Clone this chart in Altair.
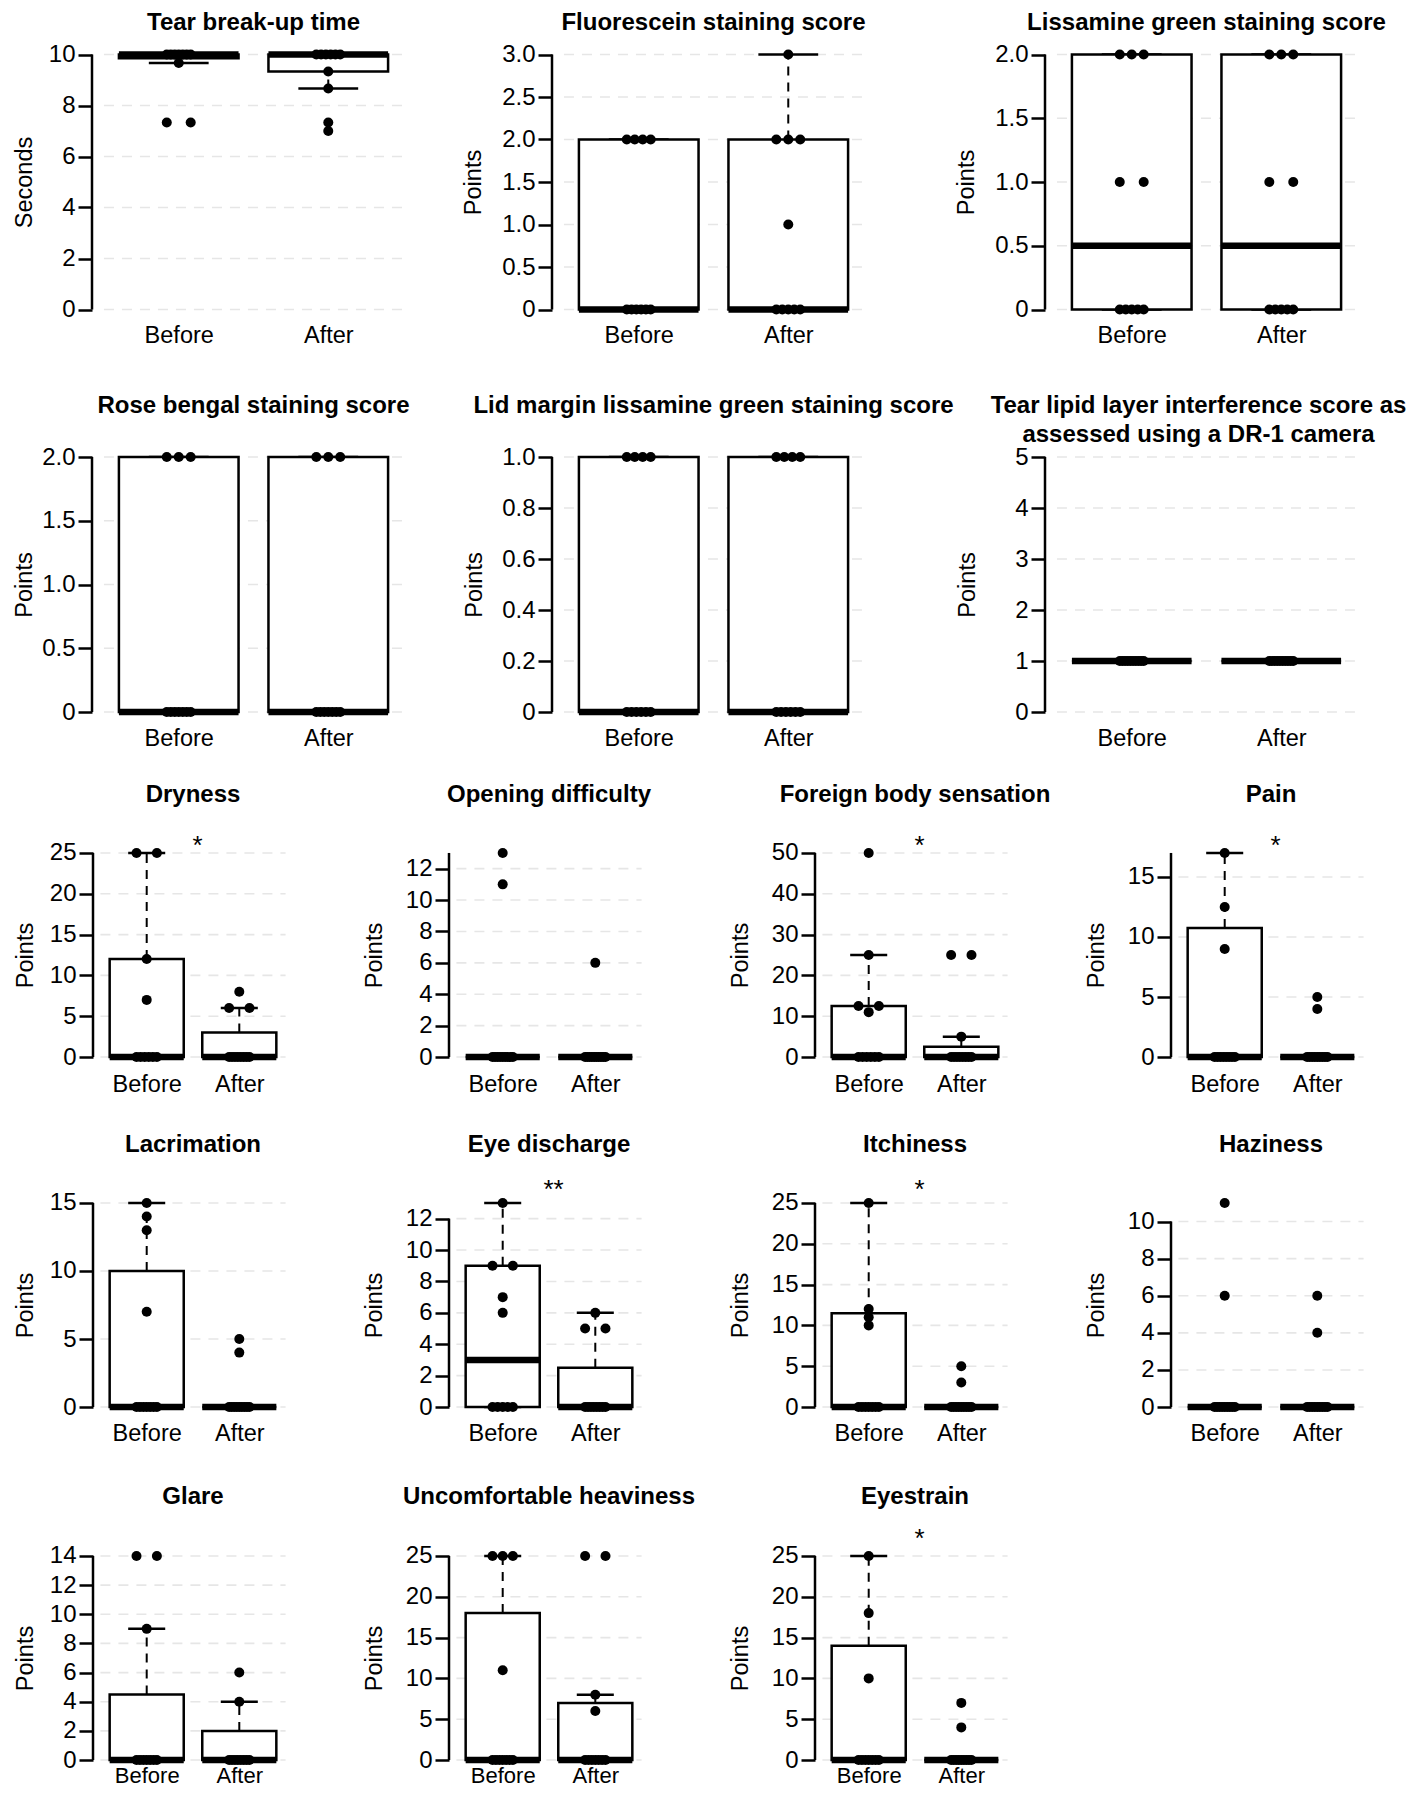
import altair as alt
import pandas as pd

# ------------------------------------------------------------------ data
TITLES = [
    "Tear break-up time", "Fluorescein staining score", "Lissamine green staining score",
    "Rose bengal staining score", "Lid margin lissamine green staining score",
    "Tear lipid layer interference score as\nassessed using a DR-1 camera",
    "Dryness", "Opening difficulty", "Foreign body sensation", "Pain",
    "Lacrimation", "Eye discharge", "Itchiness", "Haziness",
    "Glare", "Uncomfortable heaviness", "Eyestrain",
]
Y_TITLES = ["Seconds"] + ["Points"] * 16
GROUPS = ["Before", "After"]
Y_LIMITS = [[0, 10], [0, 3], [0, 2], [0, 2], [0, 1], [0, 5],
            [0, 25], [0, 13], [0, 50], [0, 17],
            [0, 15], [0, 13], [0, 25], [0, 11],
            [0, 14], [0, 25], [0, 25]]
Y_TICKS = [
    [0, 2, 4, 6, 8, 10], [0, 0.5, 1, 1.5, 2, 2.5, 3], [0, 0.5, 1, 1.5, 2],
    [0, 0.5, 1, 1.5, 2], [0, 0.2, 0.4, 0.6, 0.8, 1], [0, 1, 2, 3, 4, 5],
    [0, 5, 10, 15, 20, 25], [0, 2, 4, 6, 8, 10, 12], [0, 10, 20, 30, 40, 50], [0, 5, 10, 15],
    [0, 5, 10, 15], [0, 2, 4, 6, 8, 10, 12], [0, 5, 10, 15, 20, 25], [0, 2, 4, 6, 8, 10],
    [0, 2, 4, 6, 8, 10, 12, 14], [0, 5, 10, 15, 20, 25], [0, 5, 10, 15, 20, 25],
]
DECIMAL_LABELS = [False, True, True, True, True, False,
                  False, False, False, False, False, False, False, False, False, False, False]
AXIS_TOP = [10, 3, 2, 2, 1, 5, 25, 13, 50, 17, 15, 12, 25, 10, 14, 25, 25]
SIGNIF = ["", "", "", "", "", "", "*", "", "*", "*", "", "**", "*", "", "", "", "*"]

# box statistics: [lower whisker, Q1, median, Q3, upper whisker]
BEFORE_STATS = [
    [9.67, 9.85, 10, 10, 10], [0, 0, 0, 2, 2], [0, 0, 0.5, 2, 2], [0, 0, 0, 2, 2],
    [0, 0, 0, 1, 1], [1, 1, 1, 1, 1],
    [0, 0, 0, 12, 25], [0, 0, 0, 0, 0], [0, 0, 0, 12.5, 25], [0, 0, 0, 10.75, 17],
    [0, 0, 0, 10, 15], [0, 0, 3, 9, 13], [0, 0, 0, 11.5, 25], [0, 0, 0, 0, 0],
    [0, 0, 0, 4.5, 9], [0, 0, 0, 18, 25], [0, 0, 0, 14, 25],
]
AFTER_STATS = [
    [8.67, 9.33, 10, 10, 10], [0, 0, 0, 2, 3], [0, 0, 0.5, 2, 2], [0, 0, 0, 2, 2],
    [0, 0, 0, 1, 1], [1, 1, 1, 1, 1],
    [0, 0, 0, 3, 6], [0, 0, 0, 0, 0], [0, 0, 0, 2.5, 5], [0, 0, 0, 0, 0],
    [0, 0, 0, 0, 0], [0, 0, 0, 2.5, 6], [0, 0, 0, 0, 0], [0, 0, 0, 0, 0],
    [0, 0, 0, 2, 4], [0, 0, 0, 7, 8], [0, 0, 0, 0, 0],
]
BEFORE_POINTS = [
    [10, 10, 10, 10, 10, 10, 10, 9.67, 7.33, 7.33],
    [0, 0, 0, 0, 0, 0, 2, 2, 2, 2],
    [0, 0, 0, 0, 0, 1, 1, 2, 2, 2],
    [0, 0, 0, 0, 0, 0, 0, 2, 2, 2],
    [0, 0, 0, 0, 0, 0, 1, 1, 1, 1],
    [1, 1, 1, 1, 1, 1, 1, 1, 1, 1],
    [0, 0, 0, 0, 0, 0, 7, 12, 25, 25],
    [0, 0, 0, 0, 0, 0, 0, 0, 0, 11, 13],
    [0, 0, 0, 0, 0, 0, 11, 12.5, 12.5, 25, 50],
    [0, 0, 0, 0, 0, 0, 0, 0, 9, 12.5, 17],
    [0, 0, 0, 0, 0, 0, 0, 7, 13, 14, 15],
    [0, 0, 0, 0, 0, 6, 7, 9, 9, 13],
    [0, 0, 0, 0, 0, 0, 0, 10, 11, 12, 25],
    [0, 0, 0, 0, 0, 0, 0, 0, 0, 6, 11],
    [0, 0, 0, 0, 0, 0, 0, 9, 14, 14],
    [0, 0, 0, 0, 0, 0, 0, 11, 25, 25, 25],
    [0, 0, 0, 0, 0, 0, 0, 10, 18, 25],
]
AFTER_POINTS = [
    [10, 10, 10, 10, 10, 10, 9.33, 8.67, 7.33, 7.0],
    [0, 0, 0, 0, 0, 1, 2, 2, 2, 3],
    [0, 0, 0, 0, 0, 1, 1, 2, 2, 2],
    [0, 0, 0, 0, 0, 0, 0, 2, 2, 2],
    [0, 0, 0, 0, 0, 0, 1, 1, 1, 1],
    [1, 1, 1, 1, 1, 1, 1, 1, 1, 1],
    [0, 0, 0, 0, 0, 0, 0, 0, 6, 6, 8],
    [0, 0, 0, 0, 0, 0, 0, 0, 0, 0, 6],
    [0, 0, 0, 0, 0, 0, 0, 0, 5, 25, 25],
    [0, 0, 0, 0, 0, 0, 0, 0, 0, 4, 5],
    [0, 0, 0, 0, 0, 0, 0, 0, 0, 4, 5],
    [0, 0, 0, 0, 0, 0, 0, 0, 5, 5, 6],
    [0, 0, 0, 0, 0, 0, 0, 0, 0, 3, 5],
    [0, 0, 0, 0, 0, 0, 0, 0, 0, 4, 6],
    [0, 0, 0, 0, 0, 0, 0, 0, 4, 6],
    [0, 0, 0, 0, 0, 0, 0, 6, 8, 25, 25],
    [0, 0, 0, 0, 0, 0, 0, 0, 0, 4, 7],
]

# ------------------------------------------------------------------ layout
FONT = "Liberation Sans"
W_TOTAL, H_TOTAL = 1402, 1781
ROWS = [[0, 1, 2], [3, 4, 5], [6, 7, 8, 9], [10, 11, 12, 13], [14, 15, 16]]
ROW_TOP = [36.3, 438.8, 836.8, 1186.8, 1539.8]
ROW_BOT = [311.7, 714.2, 1057.2, 1407.2, 1760.2]
COL_X = {3: [84, 544, 1037], 4: [85, 441, 807, 1163]}
COL_W = {3: 323, 4: 200}
JITTER = {3: 0.08, 4: 0.11}
TITLE_DY = [-21, -41, -50, -50, -51]
STAR_DY = [0, 0, -7, -13, -17]
YTITLE_X = [-72, -71, -68, -68, -68]
YTITLE_X_FIRST_COL = -61
XLAB_PAD = [23, 23, 26, 25, 14]
XLAB_SIZE = [23.5, 23.5, 23.5, 23.5, 22]


def make_panel(i, x0, w, ytop, ybot, row, col, ncol):
    lo, hi = Y_LIMITS[i]
    rng = hi - lo
    xs = alt.Scale(domain=[0.42, 2.58], range=[x0, x0 + w], nice=False, zero=False)
    ys = alt.Scale(domain=[lo - 0.04 * rng, hi + 0.04 * rng], range=[ybot, ytop],
                   nice=False, zero=False)

    if DECIMAL_LABELS[i]:
        lab = "datum.value == 0 ? '0' : format(datum.value, '.1f')"
    else:
        lab = "format(datum.value, 'd')"

    tx = YTITLE_X_FIRST_COL if col == 0 else YTITLE_X[row]
    yaxis = alt.Axis(
        orient="left", offset=-x0, values=Y_TICKS[i], labelExpr=lab,
        domain=False, grid=False, ticks=True, tickSize=14, tickWidth=2.5, tickColor="black",
        labelFont=FONT, labelFontSize=24, labelColor="black", labelPadding=3,
        labelBaseline="middle", labelAlign="right", labelOverlap=False, labelFlush=False,
        title=Y_TITLES[i], titleFont=FONT, titleFontSize=23.5, titleFontWeight="normal",
        titleColor="black", titleAngle=270, titleAlign="center", titleBaseline="alphabetic",
        titleX=tx, titleY=(ytop + ybot) / 2,
    )
    xaxis = alt.Axis(
        orient="bottom", offset=ybot - H_TOTAL, values=[1, 2],
        labelExpr="datum.value == 1 ? '%s' : '%s'" % (GROUPS[0], GROUPS[1]),
        domain=False, ticks=False, tickSize=0, grid=False,
        labelFont=FONT, labelFontSize=XLAB_SIZE[row], labelColor="black",
        labelPadding=XLAB_PAD[row],
        labelBaseline="alphabetic", labelFlush=False, labelOverlap=False, title=None,
    )

    def X(field):
        return alt.X(field, scale=xs, axis=xaxis)

    def Y(field):
        return alt.Y(field, scale=ys, axis=yaxis)

    # gridlines
    grid = alt.Chart(pd.DataFrame({"t": Y_TICKS[i]})).transform_calculate(
        xa="0.5", xb="2.5"
    ).mark_rule(color="#e6e6e6", strokeWidth=1.6, strokeDash=[10, 8]).encode(
        x=X("xa:Q"), x2="xb:Q", y=Y("t:Q"),
    )
    # axis line
    axline = alt.Chart(pd.DataFrame({"a": [lo], "b": [AXIS_TOP[i]]})).transform_calculate(
        xv="0.42"
    ).mark_rule(color="black", strokeWidth=2.5).encode(
        x=X("xv:Q"), y=Y("a:Q"), y2="b:Q",
    )

    bs, as_ = BEFORE_STATS[i], AFTER_STATS[i]
    stats = pd.DataFrame({
        "pos": [1, 2],
        "lo": [bs[0], as_[0]], "q1": [bs[1], as_[1]], "med": [bs[2], as_[2]],
        "q3": [bs[3], as_[3]], "hi": [bs[4], as_[4]],
    })
    base = alt.Chart(stats).transform_calculate(
        xl="datum.pos - 0.4", xr="datum.pos + 0.4",
        cl="datum.pos - 0.2", cr="datum.pos + 0.2",
    )
    w_hi = base.mark_rule(color="black", strokeWidth=2, strokeDash=[9, 7]).encode(
        x=X("pos:Q"), y=Y("q3:Q"), y2="hi:Q",
    )
    w_lo = base.mark_rule(color="black", strokeWidth=2, strokeDash=[9, 7]).encode(
        x=X("pos:Q"), y=Y("lo:Q"), y2="q1:Q",
    )
    cap_hi = base.mark_rule(color="black", strokeWidth=2.5).encode(
        x=X("cl:Q"), x2="cr:Q", y=Y("hi:Q"),
    )
    cap_lo = base.mark_rule(color="black", strokeWidth=2.5).encode(
        x=X("cl:Q"), x2="cr:Q", y=Y("lo:Q"),
    )
    box = base.mark_rect(fill="white", stroke="black", strokeWidth=2.5).encode(
        x=X("xl:Q"), x2="xr:Q", y=Y("q1:Q"), y2="q3:Q",
    )
    med = base.mark_rule(color="black", strokeWidth=6.5, strokeCap="butt").encode(
        x=X("xl:Q"), x2="xr:Q", y=Y("med:Q"),
    )

    bp, ap = BEFORE_POINTS[i], AFTER_POINTS[i]
    pts_df = pd.DataFrame({"pos": [1] * len(bp) + [2] * len(ap), "value": bp + ap})
    j = JITTER[ncol]
    pts = alt.Chart(pts_df).transform_joinaggregate(
        n="count()", groupby=["pos", "value"]
    ).transform_window(
        r="row_number()", groupby=["pos", "value"]
    ).transform_calculate(
        jx="datum.pos + (datum.n > 1 ? ((datum.r - 1) / (datum.n - 1) - 0.5) * %f : 0)" % (2 * j)
    ).mark_circle(color="black", opacity=1, size=100).encode(
        x=X("jx:Q"), y=Y("value:Q"),
    )

    # keep the long two-line title inside the right edge
    title_dx = -8 if "\n" in TITLES[i] else 0
    title = alt.Chart(pd.DataFrame({"t": [TITLES[i]]})).transform_calculate(
        xm="1.5", ym=str(hi + 0.04 * rng)
    ).mark_text(
        font=FONT, fontSize=24, fontWeight="bold", color="black", align="center",
        baseline="middle", dx=title_dx, dy=TITLE_DY[row], lineBreak="\n", lineHeight=29,
    ).encode(
        x=X("xm:Q"), y=Y("ym:Q"), text="t:N",
    )

    layers = [grid, axline, w_hi, w_lo, cap_hi, cap_lo, box, med, pts, title]

    if SIGNIF[i]:
        star = alt.Chart(pd.DataFrame({"s": [SIGNIF[i]]})).transform_calculate(
            xm="1.55", ym=str(hi)
        ).mark_text(
            font=FONT, fontSize=26, color="black", align="center", baseline="middle",
            dy=STAR_DY[row],
        ).encode(
            x=X("xm:Q"), y=Y("ym:Q"), text="s:N",
        )
        layers.append(star)

    return alt.layer(*layers)


panels = []
for r, row in enumerate(ROWS):
    ncol = 3 if r < 2 else 4
    for c, idx in enumerate(row):
        panels.append(make_panel(idx, COL_X[ncol][c], COL_W[ncol], ROW_TOP[r], ROW_BOT[r],
                                 r, c, ncol))

chart = alt.layer(*panels).resolve_scale(
    x="independent", y="independent"
).properties(
    width=W_TOTAL, height=H_TOTAL,
    autosize=alt.AutoSizeParams(type="none"),
    padding=0,
    background="white",
).configure_view(stroke=None)

chart.save("out.html", embed_options={"renderer": "svg", "actions": False})
